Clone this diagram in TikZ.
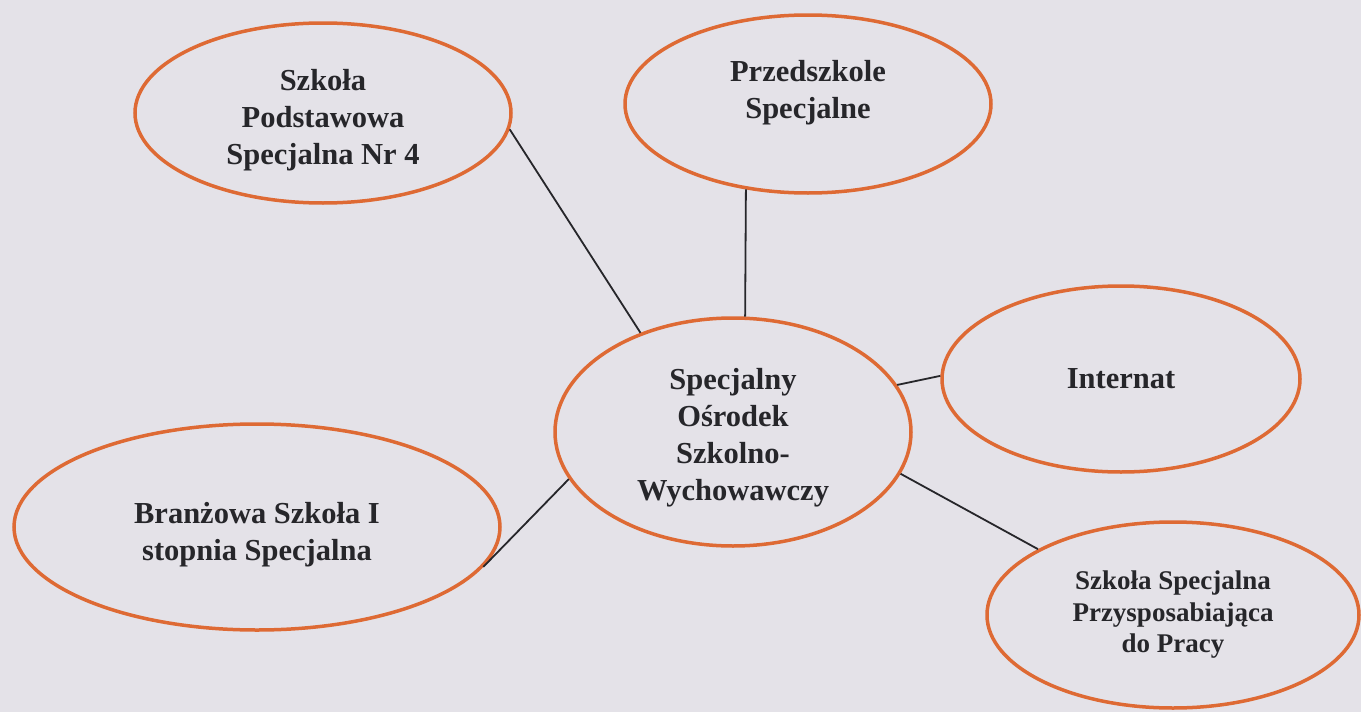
\documentclass[tikz,border=0pt]{standalone}
\usepackage{fontspec}
\setmainfont{Liberation Serif}
\usetikzlibrary{shapes.geometric}
\definecolor{paper}{RGB}{228,226,232}
\definecolor{rim}{RGB}{222,106,52}
\definecolor{ink}{RGB}{38,38,42}
\begin{document}
\begin{tikzpicture}[x = 1pt, y = -1pt,
    unit/.style = {draw = rim, line width = 3.5pt, ellipse, inner sep = 0pt,
                   align = center, text = ink, font = \fontsize{30.5}{37}\selectfont\bfseries},
    link/.style = {draw = ink, line width = 1.8pt}]
            \fill[paper] (0,0) rectangle (1361,712);
            \node[unit, minimum width = 356pt, minimum height = 228pt] (sosw) at (733,432)
              {\rule{0pt}{33pt}Specjalny\\Ośrodek\\Szkolno-\\Wychowawczy};
            \node[unit, minimum width = 376pt, minimum height = 180pt] (sp4) at (323,113)
              {\rule{0pt}{35pt}Szkoła\\Podstawowa\\Specjalna Nr 4};
            \node[unit, minimum width = 366pt, minimum height = 178pt] (przed) at (808,104)
              {Przedszkole\\Specjalne\rule[-29pt]{0pt}{0pt}};
            \node[unit, minimum width = 358pt, minimum height = 186pt] (inter) at (1121,379)
              {Internat};
            \node[unit, minimum width = 486pt, minimum height = 206pt] (bran) at (257,527)
              {\rule{0pt}{36pt}Branżowa Szkoła I\\stopnia Specjalna};
            \node[unit, minimum width = 372pt, minimum height = 186pt,
                  font = \fontsize{27}{31.5}\selectfont\bfseries] (spp) at (1173,615)
              {Szkoła Specjalna\\Przysposabiająca\\do Pracy};
            \draw[link] (sp4.-5) -- (sosw.133);
            \draw[link] (przed.-126) -- (sosw.84);
            \draw[link] (sosw.16) -- (inter.179);
            \draw[link] (sosw.-14) -- (spp.154);
            \draw[link] (sosw.196) -- (bran.-10);
        \end{tikzpicture}
\end{document}
